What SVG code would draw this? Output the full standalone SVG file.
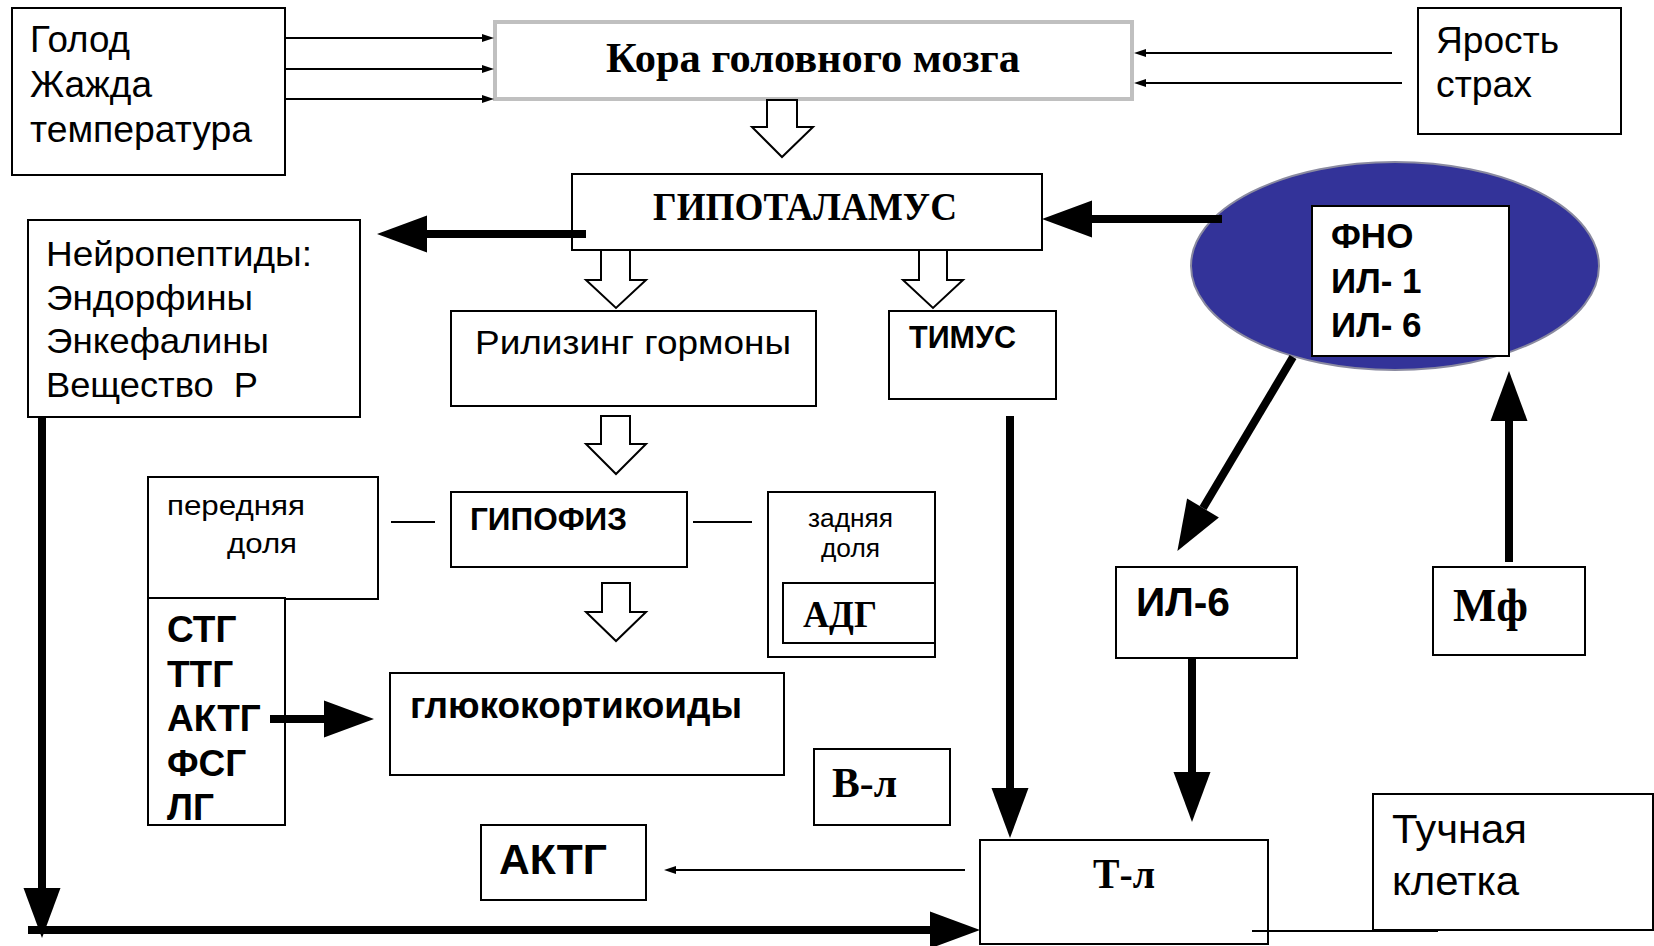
<svg xmlns="http://www.w3.org/2000/svg" width="1654" height="946" viewBox="0 0 1654 946">
<defs>
<style>
.box{fill:#fff;stroke:#000;stroke-width:2}
.sans{font-family:"Liberation Sans",Arial,sans-serif;fill:#000}
.b{font-weight:bold}
.serif{font-family:"Liberation Serif","Times New Roman",serif;font-weight:bold;fill:#000}
.thin{stroke:#000;stroke-width:2;fill:none}
.thick{stroke:#000;stroke-width:8;fill:none}
.block{fill:#fff;stroke:#000;stroke-width:2;stroke-linejoin:miter}
</style>
<marker id="hThick" markerUnits="userSpaceOnUse" markerWidth="52" markerHeight="40" refX="0" refY="18.5" orient="auto" overflow="visible">
<path d="M0,0 L50,18.5 L0,37 Z" fill="#000"/>
</marker>
<marker id="hThin" markerUnits="userSpaceOnUse" markerWidth="14" markerHeight="10" refX="0" refY="4" orient="auto" overflow="visible">
<path d="M0,0 L12,4 L0,8 Z" fill="#000"/>
</marker>
</defs>
<rect width="1654" height="946" fill="#fff"/>

<g id="golod">
<rect class="box" x="12" y="8" width="273" height="167"/>
<text class="sans" font-size="36" x="30" y="52" textLength="100" lengthAdjust="spacingAndGlyphs">Голод</text>
<text class="sans" font-size="36" x="30" y="97" textLength="122" lengthAdjust="spacingAndGlyphs">Жажда</text>
<text class="sans" font-size="36" x="30" y="142" textLength="222" lengthAdjust="spacingAndGlyphs">температура</text>
</g>

<g id="kora">
<rect x="495" y="22" width="637" height="77" fill="#fff" stroke="#c0c0c0" stroke-width="4"/>
<text class="serif" font-size="43" x="606" y="72" textLength="414" lengthAdjust="spacingAndGlyphs">Кора головного мозга</text>
</g>

<g id="yarost">
<rect class="box" x="1418" y="8" width="203" height="126"/>
<text class="sans" font-size="36" x="1436" y="53" textLength="123" lengthAdjust="spacingAndGlyphs">Ярость</text>
<text class="sans" font-size="36" x="1436" y="97" textLength="96" lengthAdjust="spacingAndGlyphs">страх</text>
</g>

<g id="gipotalamus">
<rect class="box" x="572" y="174" width="470" height="76"/>
<text class="serif" font-size="39" x="653" y="220" textLength="304" lengthAdjust="spacingAndGlyphs">ГИПОТАЛАМУС</text>
</g>

<g id="cytokines">
<ellipse cx="1395" cy="266" rx="204" ry="104" fill="#333399" stroke="#8a8aa0" stroke-width="2"/>
<rect class="box" x="1312" y="206" width="197" height="150"/>
<text class="sans b" font-size="35" x="1331" y="248">ФНО</text>
<text class="sans b" font-size="35" x="1331" y="293">ИЛ- 1</text>
<text class="sans b" font-size="35" x="1331" y="337">ИЛ- 6</text>
</g>

<g id="neuropeptides">
<rect class="box" x="28" y="220" width="332" height="197"/>
<text class="sans" font-size="35" x="46" y="266" textLength="266" lengthAdjust="spacingAndGlyphs">Нейропептиды:</text>
<text class="sans" font-size="35" x="46" y="310" textLength="207" lengthAdjust="spacingAndGlyphs">Эндорфины</text>
<text class="sans" font-size="35" x="46" y="353" textLength="223" lengthAdjust="spacingAndGlyphs">Энкефалины</text>
<text class="sans" font-size="35" x="46" y="397" textLength="212" lengthAdjust="spacingAndGlyphs" xml:space="preserve">Вещество  Р</text>
</g>

<g id="rilizing">
<rect class="box" x="451" y="311" width="365" height="95"/>
<text class="sans" font-size="34" x="475" y="354" textLength="316" lengthAdjust="spacingAndGlyphs">Рилизинг гормоны</text>
</g>

<g id="timus">
<rect class="box" x="889" y="311" width="167" height="88"/>
<text class="sans b" font-size="31" x="909" y="348" textLength="107" lengthAdjust="spacingAndGlyphs">ТИМУС</text>
</g>

<g id="perednyaya">
<rect class="box" x="148" y="477" width="230" height="122"/>
<text class="sans" font-size="27" x="167" y="515" textLength="138" lengthAdjust="spacingAndGlyphs">передняя</text>
<text class="sans" font-size="27" x="227" y="553" textLength="70" lengthAdjust="spacingAndGlyphs">доля</text>
</g>

<g id="gipofiz">
<rect class="box" x="451" y="492" width="236" height="75"/>
<text class="sans b" font-size="31" x="470" y="530" textLength="157" lengthAdjust="spacingAndGlyphs">ГИПОФИЗ</text>
</g>

<g id="zadnyaya">
<rect class="box" x="768" y="492" width="167" height="165"/>
<text class="sans" font-size="25" x="808" y="527" textLength="85" lengthAdjust="spacingAndGlyphs">задняя</text>
<text class="sans" font-size="25" x="821" y="557" textLength="59" lengthAdjust="spacingAndGlyphs">доля</text>
</g>

<g id="adg">
<rect class="box" x="783" y="583" width="152" height="60"/>
<text class="serif" font-size="38" x="803" y="627" textLength="74" lengthAdjust="spacingAndGlyphs">АДГ</text>
</g>

<g id="hormones">
<rect class="box" x="148" y="598" width="137" height="227"/>
<text class="sans b" font-size="37" x="167" y="642">СТГ</text>
<text class="sans b" font-size="37" x="167" y="687">ТТГ</text>
<text class="sans b" font-size="37" x="167" y="731">АКТГ</text>
<text class="sans b" font-size="37" x="167" y="776">ФСГ</text>
<text class="sans b" font-size="37" x="167" y="820">ЛГ</text>
</g>

<g id="glucocorticoids">
<rect class="box" x="390" y="673" width="394" height="102"/>
<text class="sans b" font-size="36" x="410" y="718" textLength="332" lengthAdjust="spacingAndGlyphs">глюкокортикоиды</text>
</g>

<g id="il6">
<rect class="box" x="1116" y="567" width="181" height="91"/>
<text class="sans b" font-size="41" x="1136" y="616" textLength="94" lengthAdjust="spacingAndGlyphs">ИЛ-6</text>
</g>

<g id="mf">
<rect class="box" x="1433" y="567" width="152" height="88"/>
<text class="serif" font-size="47" x="1453" y="621" textLength="75" lengthAdjust="spacingAndGlyphs">Мф</text>
</g>

<g id="bl">
<rect class="box" x="814" y="749" width="136" height="76"/>
<text class="serif" font-size="43" x="832" y="797" textLength="65" lengthAdjust="spacingAndGlyphs">В-л</text>
</g>

<g id="aktg">
<rect class="box" x="481" y="825" width="165" height="75"/>
<text class="sans b" font-size="42" x="499" y="874" textLength="108" lengthAdjust="spacingAndGlyphs">АКТГ</text>
</g>

<g id="tl">
<rect class="box" x="980" y="840" width="288" height="104"/>
<text class="serif" font-size="43" x="1093" y="888" textLength="62" lengthAdjust="spacingAndGlyphs">Т-л</text>
</g>

<g id="tuchnaya">
<rect class="box" x="1373" y="794" width="280" height="136"/>
<text class="sans" font-size="40" x="1392" y="843" textLength="135" lengthAdjust="spacingAndGlyphs">Тучная</text>
<text class="sans" font-size="40" x="1392" y="895" textLength="127" lengthAdjust="spacingAndGlyphs">клетка</text>
</g>

<g id="connectors">
<line class="thin" x1="285" y1="38" x2="482" y2="38" marker-end="url(#hThin)"/>
<line class="thin" x1="285" y1="69" x2="482" y2="69" marker-end="url(#hThin)"/>
<line class="thin" x1="285" y1="99" x2="482" y2="99" marker-end="url(#hThin)"/>
<line class="thin" x1="1392" y1="53" x2="1146" y2="53" marker-end="url(#hThin)"/>
<line class="thin" x1="1402" y1="83" x2="1146" y2="83" marker-end="url(#hThin)"/>
<path class="block" d="M767,100 L797,100 L797,127 L813,127 L782,157 L752,127 L767,127 Z"/>
<path class="block" d="M601,250 L630,250 L630,280 L646,280 L616,308 L586,280 L601,280 Z"/>
<path class="block" d="M919,250 L947,250 L947,280 L963,280 L933,308 L903,280 L919,280 Z"/>
<path class="block" d="M601,416 L630,416 L630,444 L646,444 L616,474 L586,444 L601,444 Z"/>
<path class="block" d="M602,583 L630,583 L630,612 L646,612 L616,641 L586,612 L602,612 Z"/>
<line class="thin" x1="391" y1="522" x2="435" y2="522"/>
<line class="thin" x1="693" y1="522" x2="752" y2="522"/>
<line class="thick" x1="586" y1="234" x2="427" y2="234" marker-end="url(#hThick)"/>
<line class="thick" x1="1222" y1="219" x2="1092" y2="219" marker-end="url(#hThick)"/>
<line class="thick" x1="270" y1="719" x2="324" y2="719" marker-end="url(#hThick)"/>
<line class="thick" x1="1010" y1="416" x2="1010" y2="788" marker-end="url(#hThick)"/>
<line class="thick" x1="1192" y1="658" x2="1192" y2="772" marker-end="url(#hThick)"/>
<line class="thick" x1="1509" y1="562" x2="1509" y2="421" marker-end="url(#hThick)"/>
<line class="thick" x1="1293" y1="357" x2="1203" y2="508" marker-end="url(#hThick)"/>
<line class="thick" x1="42" y1="417" x2="42" y2="888" marker-end="url(#hThick)"/>
<line class="thick" x1="28" y1="930" x2="930" y2="930" marker-end="url(#hThick)"/>
<line class="thin" x1="965" y1="870" x2="676" y2="870" marker-end="url(#hThin)"/>
<line class="thin" x1="1252" y1="931" x2="1438" y2="931"/>
</g>
</svg>
